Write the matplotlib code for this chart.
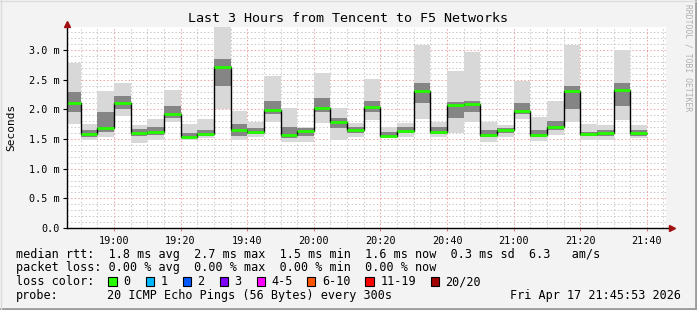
"""
SmokePing style latency chart: Tencent -> F5 Networks, last 3 hours.
"""

import matplotlib.pyplot as plt
from matplotlib.lines import Line2D
from matplotlib.patches import Rectangle
from matplotlib.ticker import FixedLocator, MultipleLocator

plt.rcParams.update({
    "font.family": "DejaVu Sans Mono",
    "figure.facecolor": "#f3f3f3",
    "axes.facecolor": "white",
    "savefig.dpi": 100,
})

# ── Data (ms) ───────────────────────────────────────────────────────
# each bar covers the 5 minutes ending at bar_end (minutes after 18:00)
bar_end = list(range(50, 221, 5))
rtt_lo  = [1.76, 1.48, 1.53, 1.89, 1.44, 1.49, 1.79, 1.48, 1.51, 2.00,
           1.49, 1.53, 1.79, 1.45, 1.45, 1.77, 1.49, 1.54, 1.82, 1.52,
           1.54, 1.84, 1.54, 1.61, 1.79, 1.45, 1.54, 1.83, 1.47, 1.57,
           1.79, 1.48, 1.49, 1.82, 1.51]
rtt_q1  = [1.95, 1.54, 1.62, 2.00, 1.55, 1.57, 1.86, 1.52, 1.55, 2.40,
           1.56, 1.58, 1.92, 1.52, 1.55, 1.95, 1.68, 1.60, 1.95, 1.55,
           1.60, 2.10, 1.58, 1.85, 1.95, 1.53, 1.60, 1.92, 1.54, 1.66,
           2.00, 1.55, 1.56, 2.05, 1.56]
rtt_med = [2.11, 1.58, 1.69, 2.11, 1.61, 1.62, 1.92, 1.54, 1.58, 2.71,
           1.66, 1.62, 1.99, 1.57, 1.64, 2.03, 1.79, 1.66, 2.04, 1.55,
           1.64, 2.31, 1.62, 2.07, 2.09, 1.57, 1.65, 1.98, 1.57, 1.71,
           2.31, 1.58, 1.61, 2.33, 1.61]
rtt_q3  = [2.30, 1.65, 1.95, 2.22, 1.67, 1.70, 2.05, 1.60, 1.65, 2.85,
           1.75, 1.68, 2.15, 1.70, 1.68, 2.20, 1.85, 1.70, 2.15, 1.62,
           1.70, 2.45, 1.70, 2.12, 2.15, 1.65, 1.68, 2.10, 1.65, 1.80,
           2.40, 1.62, 1.65, 2.45, 1.66]
rtt_hi  = [2.79, 1.75, 2.31, 2.45, 1.73, 1.84, 2.33, 1.75, 1.84, 3.40,
           1.98, 1.79, 2.56, 2.02, 1.71, 2.61, 2.02, 1.77, 2.52, 1.70,
           1.77, 3.08, 1.79, 2.64, 2.97, 1.79, 1.73, 2.48, 1.88, 2.15,
           3.08, 1.75, 1.73, 3.00, 1.73]

tick_pos = [60, 80, 100, 120, 140, 160, 180, 200, 220]
tick_labels = ["19:00", "19:20", "19:40", "20:00", "20:20",
               "20:40", "21:00", "21:20", "21:40"]

loss_labels = ["0", "1", "2", "3", "4-5", "6-10", "11-19", "20/20"]
loss_colors = ["#26ff00", "#00b8ff", "#0059ff", "#7e00ff",
               "#ff00ff", "#ff5500", "#ff0000", "#a10000"]

X_START = 45 + 53 / 60   # 18:45:53
X_STOP = 225 + 53 / 60   # 21:45:53
Y_MAX = 3.39

W, H = 697, 310


def fx(px):
    return px / W


def fy(py):
    return 1 - py / H


fig = plt.figure(figsize=(W / 100, H / 100), dpi=100)
ax = fig.add_axes([fx(67), fy(228), fx(599.4), 201 / H])

# ── Grid ────────────────────────────────────────────────────────────
dots = (0, (1.5, 2.2))
for t in range(50, 226, 5):
    if t % 20 == 0:
        continue
    ax.axvline(t, color="#c8c8c8", lw=0.7, ls=dots, zorder=0)
for v in [i / 10 for i in range(1, 34)]:
    if round(v * 10) % 5 == 0:
        continue
    ax.axhline(v, color="#c8c8c8", lw=0.7, ls=dots, zorder=0)
for t in tick_pos:
    ax.axvline(t, color="#f0a0a0", lw=0.7, ls=dots, zorder=0.5)
for v in [0.5, 1.0, 1.5, 2.0, 2.5, 3.0]:
    ax.axhline(v, color="#f0a0a0", lw=0.7, ls=dots, zorder=0.5)

# ── Smoke + median ──────────────────────────────────────────────────
starts = [e - 5 for e in bar_end]
ax.bar(starts, [h - l for h, l in zip(rtt_hi, rtt_lo)], bottom=rtt_lo,
       width=5, align="edge", color="#d8d8d8", lw=0, zorder=1)
ax.bar(starts, [h - l for h, l in zip(rtt_q3, rtt_q1)], bottom=rtt_q1,
       width=5, align="edge", color="#858585", lw=0, zorder=1.5)
ax.stairs(rtt_med, [starts[0]] + bar_end, baseline=None,
          color="black", lw=1, zorder=2)
ax.hlines(rtt_med, starts, bar_end, colors=loss_colors[0], lw=2, zorder=3)

ax.set_xlim(X_START, X_STOP)
ax.set_ylim(0, Y_MAX)

ax.xaxis.set_major_locator(FixedLocator(tick_pos))
ax.set_xticklabels(tick_labels)
ax.yaxis.set_major_locator(MultipleLocator(0.5))
ax.set_yticklabels(["0.0" if v == 0 else f"{v:.1f} m"
                    for v in ax.get_yticks()])
ax.tick_params(axis="x", length=2, color="#e08080", labelsize=7.3, pad=4)
ax.tick_params(axis="y", length=3, labelsize=7.3, pad=2)

for s in ax.spines.values():
    s.set_visible(False)
ax.plot([0, 1.008], [0, 0], transform=ax.transAxes, color="black",
        lw=1, clip_on=False, zorder=4)
ax.plot([0, 0], [0, 1.01], transform=ax.transAxes, color="black",
        lw=1, clip_on=False, zorder=4)
ax.plot([1.01], [0], marker=">", ms=5, color="#a01010",
        transform=ax.transAxes, clip_on=False, zorder=5)
ax.plot([0], [1.015], marker="^", ms=5, color="#a01010",
        transform=ax.transAxes, clip_on=False, zorder=5)

# ── Texts ───────────────────────────────────────────────────────────
fig.text(fx(11), fy(127), "Seconds", rotation=90,
         ha="center", va="center", fontsize=8)
fig.text(fx(348), fy(19), "Last 3 Hours from Tencent to F5 Networks",
         ha="center", va="center", fontsize=9.6)
fig.text(fx(688), fy(58), "RRDTOOL / TOBI OETIKER", rotation=270,
         ha="center", va="center", fontsize=5.8, color="#b0b0b0")

legend_kw = dict(ha="left", va="center", fontsize=8.5)
fig.text(fx(16), fy(254.3),
         "median rtt:  1.8 ms avg  2.7 ms max  1.5 ms min  "
         "1.6 ms now  0.3 ms sd  6.3   am/s", **legend_kw)
fig.text(fx(16), fy(267.7),
         "packet loss: 0.00 % avg  0.00 % max  0.00 % min  0.00 % now",
         **legend_kw)
fig.text(fx(16), fy(281.7), "loss color:", **legend_kw)
fig.text(fx(16), fy(295.7), "probe:", **legend_kw)
fig.text(fx(107.3), fy(295.7),
         "20 ICMP Echo Pings (56 Bytes) every 300s", **legend_kw)
fig.text(fx(681), fy(295.7), "Fri Apr 17 21:45:53 2026",
         ha="right", va="center", fontsize=8.5)

sq_x = [108.3, 145.7, 182.7, 219.7, 256.7, 307.0, 365.3, 430.7]
lab_x = [123.3, 160.3, 197.0, 234.3, 271.0, 322.0, 380.7, 445.3]
for sx, lx, lab, col in zip(sq_x, lab_x, loss_labels, loss_colors):
    fig.add_artist(Rectangle((fx(sx), fy(285.7)), fx(8.3), 8.3 / H,
                             transform=fig.transFigure, facecolor=col,
                             edgecolor="black", lw=0.8))
    fig.text(fx(lx), fy(281.7), lab, **legend_kw)

# frame
fig.add_artist(Line2D([0, 1], [fy(308.8)] * 2, transform=fig.transFigure,
                      color="#9c9c9c", lw=2))
fig.add_artist(Line2D([fx(695.8)] * 2, [0, 1], transform=fig.transFigure,
                      color="#9c9c9c", lw=2))
fig.add_artist(Line2D([0, 1], [fy(0.5)] * 2, transform=fig.transFigure,
                      color="#dcdcdc", lw=1))
fig.add_artist(Line2D([fx(0.5)] * 2, [0, 1], transform=fig.transFigure,
                      color="#dcdcdc", lw=1))

fig.savefig("out.png", dpi=100)
